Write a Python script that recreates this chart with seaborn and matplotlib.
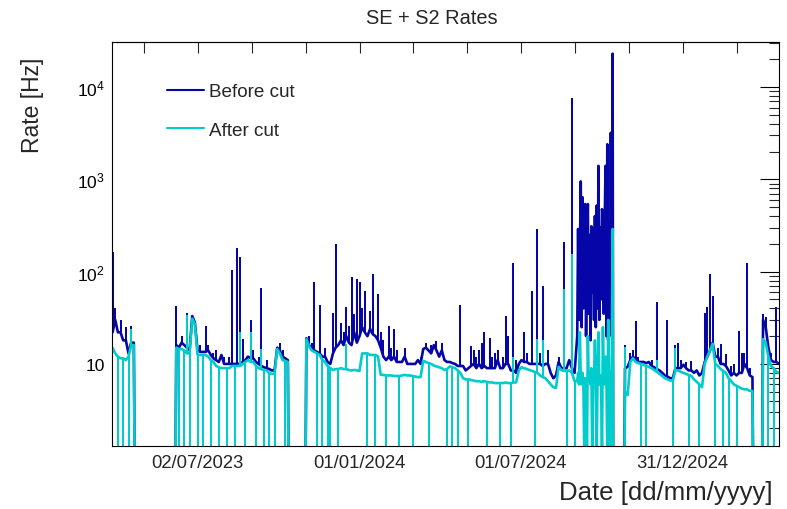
import numpy as np
import pandas as pd
import matplotlib
matplotlib.use("Agg")
import matplotlib.pyplot as plt
import matplotlib.dates as mdates
from matplotlib.lines import Line2D
from matplotlib.ticker import FixedLocator, FixedFormatter, FuncFormatter, LogLocator, NullFormatter
import seaborn as sns

sns.set_style("white")
plt.rcParams["font.family"] = ["Liberation Sans", "DejaVu Sans"]
plt.rcParams["mathtext.fontset"] = "custom"
plt.rcParams["mathtext.rm"] = "Liberation Sans"
plt.rcParams["mathtext.it"] = "Liberation Sans:italic"
plt.rcParams["mathtext.bf"] = "Liberation Sans:bold"

# ============ data: rates in Hz (0.001 = no data, below the axis floor) ============
# --- part 1: every 3 days from 2023-03-28 ---
start_1 = "2023-03-28"
before_1 = [22, 30, 22, 22, 18, 18, 13, 17, 17, 0.001,
            0.001, 0.001, 0.001, 0.001, 0.001, 0.001, 0.001, 0.001, 0.001, 0.001,
            0.001, 0.001, 0.001, 0.001, 16, 15, 17, 16, 15, 14,
            33, 28, 14, 13.5, 13.5, 13.5, 14, 12.5, 11.5, 11,
            10.5, 12.5, 10, 10, 10, 10, 10, 10, 10, 10.5,
            11, 12, 11.5, 11.5, 10.5, 10, 9.5, 9.2, 9, 8.8,
            8.5, 8.5, 15, 14, 12, 11.5, 11, 0.001, 0.001, 0.001,
            0.001, 0.001, 0.001, 19, 16, 14.5, 14, 13.5, 13, 12,
            12, 10.5, 10, 13, 15, 16, 18, 16, 20, 17,
            16, 22, 17, 20, 25, 22, 20, 24, 21, 20,
            18, 15, 12, 11, 12, 11, 12, 10.5, 10.5, 10.5,
            12, 10, 10, 10, 10, 11, 10, 14.5, 15, 14,
            13, 16, 14, 12, 14, 11, 10.5, 10.5, 10.2, 10,
            9.5, 9.5, 9.5, 8.5, 9, 9.5, 10, 9, 10, 9,
            9.5, 9, 9, 9, 9, 11, 9, 9, 10, 10,
            8.5, 8.5, 8, 10, 11, 10.5, 10.5, 10, 10, 10,
            10, 10, 9.5, 10, 10, 8, 7, 7.5, 10.5, 9,
            9, 9, 11, 9, 8]
after_1 = [15, 13, 12, 11.5, 11.5, 11, 12, 16, 16, 0.001,
           0.001, 0.001, 0.001, 0.001, 0.001, 0.001, 0.001, 0.001, 0.001, 0.001,
           0.001, 0.001, 0.001, 0.001, 15, 14.5, 14.5, 14, 13, 13,
           31, 27, 12.5, 12.5, 12.5, 12.5, 12, 11, 10.5, 9.5,
           9.2, 9, 9, 9, 9, 9.5, 9.5, 9.5, 9.5, 10,
           10.5, 11, 10.5, 10.5, 9.5, 9, 8.8, 8.6, 8.5, 8,
           7.8, 7.8, 14.5, 13, 11, 10.8, 10.5, 0.001, 0.001, 0.001,
           0.001, 0.001, 0.001, 18.6, 15.5, 14, 13.5, 13, 12.5, 11,
           10.5, 9.5, 9, 8.6, 8.8, 8.8, 9, 8.8, 8.8, 8.6,
           8.5, 8.6, 8.5, 8.4, 13, 13, 13, 12.5, 12.5, 12.5,
           12, 7.6, 7.6, 7.5, 7.5, 7.5, 7.4, 7.4, 7.4, 7.5,
           7.6, 7.5, 7.5, 7.4, 7.3, 7.2, 7.2, 10.8, 10.5, 10.2,
           10, 9.6, 9.4, 9.2, 9, 8.6, 8.8, 9.4, 9.2, 9,
           8.5, 8, 7, 6.8, 6.8, 6.7, 6.6, 6.5, 6.5, 6.4,
           6.5, 6.4, 6.3, 6.3, 6.2, 6.2, 6.2, 6.2, 6.3, 6.2,
           6.2, 6.3, 6.3, 8.5, 9.2, 9, 8.8, 8.6, 8.4, 8.2,
           8, 7.5, 7.2, 7, 6.5, 6, 5.6, 5.5, 9.3, 8.6,
           8.4, 8.4, 8.5, 8, 6.5]

# --- part 2: daily during the autumn-2024 burst ---
before_burst = [20, 290, 30, 150, 950, 25, 640, 40, 200, 540,
                20, 150, 540, 35, 250, 18, 310, 60, 290, 30,
                400, 25, 520, 40, 1400, 30, 300, 50, 475, 400,
                35, 300, 1400, 20, 2400, 18, 350, 25, 3200, 20,
                23000, 0.001, 0.001]
after_burst = [6.5, 8, 6, 22, 7, 6, 8, 6, 1, 7,
               6, 1, 20, 6.5, 7, 6, 9, 1, 6, 7,
               18, 6.5, 1, 8, 22, 6, 7.5, 6, 1, 25,
               7, 6, 12, 7, 1, 30, 7, 1, 8, 6.5,
               290, 0.001, 0.001]

# --- part 3: every 3 days to April 2025 ---
before_2 = [0.001, 0.001, 0.001, 9, 9.3, 11, 12, 11, 10.5, 10.5,
            10.5, 10.2, 10.5, 9.5, 9.2, 8.8, 8.5, 8, 7.5, 7.3,
            7, 7, 9, 9, 9, 9.8, 9, 8.5, 8.5, 8,
            8.5, 7.5, 8, 10.5, 12, 14, 17, 12, 12, 10,
            10, 9.5, 8.5, 7.5, 8, 7.5, 8, 8, 10, 9,
            7.5, 7.2, 0.001, 0.001, 0.001, 30, 25, 15, 11, 10.5,
            10.5, 10]
after_2 = [0.001, 0.001, 0.001, 5, 4.6, 10.5, 11.5, 10.5, 10.2, 10,
           9.8, 9.5, 9.3, 9, 8.6, 8.2, 7.8, 7.4, 7, 6.8,
           6.6, 6.6, 8.5, 8.5, 8.2, 8, 7.8, 7.6, 7.4, 6.8,
           6.4, 6, 5.6, 10, 12, 14, 16.5, 10, 9.5, 8.8,
           8.4, 8, 7, 6.5, 6, 5.8, 5.6, 5.4, 5.3, 5.3,
           5.1, 5.1, 0.001, 0.001, 0.001, 18.6, 17, 12, 9.5, 9,
           8.2, 8]

# --- short spikes (sample index in the full series, peak rate) ---
before_spike_idx = [0, 7, 24, 28, 35, 39, 45, 47, 48, 49, 52, 56, 63, 76, 78, 83, 84, 86, 88, 89,
                    90, 92, 93, 95, 97, 98, 100, 104, 106, 122, 131, 135, 136, 138, 139, 140, 142,
                    144, 148, 149, 151, 155, 158, 160, 162, 170, 173,
                    221, 225, 233, 237, 240, 241, 246, 251, 252, 253, 254, 257, 259, 264, 265,
                    267, 273, 278,
                    1, 3, 5, 26, 33, 36, 38, 42, 44, 53, 55, 58, 64, 74, 75, 80,
                    87, 91, 94, 101, 102, 105, 107, 110, 116, 118, 120, 124, 137, 143, 145,
                    147, 152, 156, 161, 164, 168,
                    223, 224, 226, 231, 242, 244, 256, 261, 262, 266, 268, 274, 276]
before_spike_val = [165, 26, 42, 36, 26, 14, 105, 180, 145, 18.6, 30, 66, 17, 77, 44, 36, 197, 28,
                    41, 26, 88, 84, 77, 62, 37, 95, 57, 26, 24, 17.5, 44, 15.5, 14, 14, 17, 22,
                    19, 13, 33, 20, 124, 22, 62, 290, 70, 210, 7600,
                    16, 29, 47, 30, 16, 17, 10.8, 36, 41, 95, 55, 16.5, 12.8, 23, 13, 124, 35, 41,
                    40, 30, 25, 20, 16, 16, 13, 12, 12, 14, 12, 11, 14, 20, 17, 15,
                    22, 35, 40, 22, 18, 15, 14, 15, 12, 17, 16, 17, 12, 12, 14,
                    12, 11, 13, 13, 14, 12,
                    13, 14, 12, 11, 11, 10.5, 15, 9.5, 10, 13, 9, 32, 13]
after_spike_idx = [7, 28, 48, 52, 56, 88, 151, 160, 162, 170, 173, 221, 233, 240]
after_spike_val = [24, 34, 22, 22, 14.5, 16.5, 12, 18.6, 18, 65, 155, 15.3, 11, 15]

# --- short drops to zero (sample index) ---
gap_idx = [2, 4, 6, 25, 27, 29, 32, 34, 37, 40, 43, 46, 50, 54, 57, 59, 61, 65, 77, 79,
           81, 82, 85, 96, 99, 103, 108, 113, 119, 126, 128, 130, 134, 141, 146, 150, 159, 171, 174,
           227, 229, 239, 245, 249, 255, 258, 260, 263, 275, 277]

tick_dates = ["2023-07-02", "2024-01-01", "2024-07-01", "2024-12-31"]
tick_labels = ["02/07/2023", "01/01/2024", "01/07/2024", "31/12/2024"]
series_names = ["Before cut", "After cut"]
colors = ["#0606a8", "#00cccc"]

# ============ assemble ============
d1 = pd.date_range(start_1, periods=len(before_1), freq="3D")
db = pd.date_range(d1[-1] + pd.Timedelta(days=3), periods=len(before_burst), freq="D")
d2 = pd.date_range(db[-1] + pd.Timedelta(days=3), periods=len(before_2), freq="3D")
dates = pd.DatetimeIndex(np.concatenate([d1.values, db.values, d2.values]))
before = np.array(before_1 + before_burst + before_2, dtype=float)
after = np.array(after_1 + after_burst + after_2, dtype=float)
df_b = pd.DataFrame({"date": dates, "rate": before})
df_a = pd.DataFrame({"date": dates, "rate": after})

# ============ figure ============
W, H = 787, 510
fig = plt.figure(figsize=(W / 100, H / 100), dpi=100)
L, R, T, B = 111.7, 779.0, 42.7, 446.7
ax = fig.add_axes([L / W, 1 - B / H, (R - L) / W, (B - T) / H])
ax.set_yscale("log")
LW = 1.9
VW = 1.45

sns.lineplot(data=df_b, x="date", y="rate", color=colors[0], lw=LW, estimator=None,
             sort=False, ax=ax, zorder=2.0)
xb = mdates.date2num(dates[before_spike_idx].to_pydatetime())
ax.vlines(xb, before[before_spike_idx], before_spike_val, colors=colors[0], lw=VW, zorder=2.1)

sns.lineplot(data=df_a, x="date", y="rate", color=colors[1], lw=LW, estimator=None,
             sort=False, ax=ax, zorder=2.2)
xa = mdates.date2num(dates[after_spike_idx].to_pydatetime())
ax.vlines(xa, after[after_spike_idx], after_spike_val, colors=colors[1], lw=VW, zorder=2.3)
xg = mdates.date2num(dates[gap_idx].to_pydatetime())
ax.vlines(xg, 1.0, after[gap_idx], colors=colors[1], lw=VW, zorder=2.4)

ax.set_ylim(1.3, 31000)
ax.set_xlim(mdates.date2num(pd.Timestamp("2023-03-27")), mdates.date2num(pd.Timestamp("2025-04-19")))
ax.set_xlabel("")
ax.set_ylabel("")

# y ticks
ax.yaxis.set_major_locator(FixedLocator([10, 100, 1000, 10000]))
ax.yaxis.set_major_formatter(FuncFormatter(
    lambda v, p: "10" if abs(v - 10) < 1e-6 else r"$\mathdefault{10^{%d}}$" % int(round(np.log10(v)))))
ax.yaxis.set_minor_locator(LogLocator(base=10, subs=np.arange(2, 10), numticks=30))
ax.yaxis.set_minor_formatter(NullFormatter())
ax.tick_params(axis="y", which="major", direction="in", length=13.5, width=0.8,
               right=True, labelsize=12.5, pad=5, colors="black")
ax.tick_params(axis="y", which="minor", direction="in", length=7, width=0.8, right=True)

# x ticks
major = mdates.date2num(pd.to_datetime(tick_dates))
step = (major[1] - major[0]) / 3.0
minor = np.arange(major[0] - step, major[-1] + 2 * step, step)
ax.xaxis.set_major_locator(FixedLocator(major))
ax.xaxis.set_major_formatter(FixedFormatter(tick_labels))
ax.xaxis.set_minor_locator(FixedLocator(minor))
ax.tick_params(axis="x", which="major", direction="in", length=8.5, width=0.8,
               labelsize=13.3, pad=6, top=False)
ax.tick_params(axis="x", which="minor", direction="in", length=3.6, width=0.8, top=False)

sec = ax.secondary_xaxis("top")
sec.xaxis.set_major_locator(FixedLocator(minor))
sec.xaxis.set_major_formatter(NullFormatter())
sec.tick_params(axis="x", which="major", direction="in", length=8, width=0.8)
sec.tick_params(axis="x", which="minor", length=0)

for s in ax.spines.values():
    s.set_color("black")
    s.set_linewidth(0.8)
for s in sec.spines.values():
    s.set_linewidth(0.8)

# legend
handles = [Line2D([], [], color=c, lw=1.5) for c in colors]
ax.legend(handles, series_names, loc="upper left", bbox_to_anchor=(0.083, 0.898),
          frameon=False, fontsize=13.6, handlelength=1.96, handletextpad=0.25,
          labelspacing=1.12, borderpad=0, borderaxespad=0)

# titles
fig.text(432 / W, 1 - 19 / H, "SE + S2 Rates", ha="center", va="center", fontsize=14.4)
fig.text(32 / W, 1 - 105 / H, "Rate [Hz]", ha="center", va="center", rotation=90, fontsize=16.5)
fig.text(773 / W, 1 - 493 / H, "Date [dd/mm/yyyy]", ha="right", va="center", fontsize=18.5)

fig.savefig("out.png", dpi=100)
